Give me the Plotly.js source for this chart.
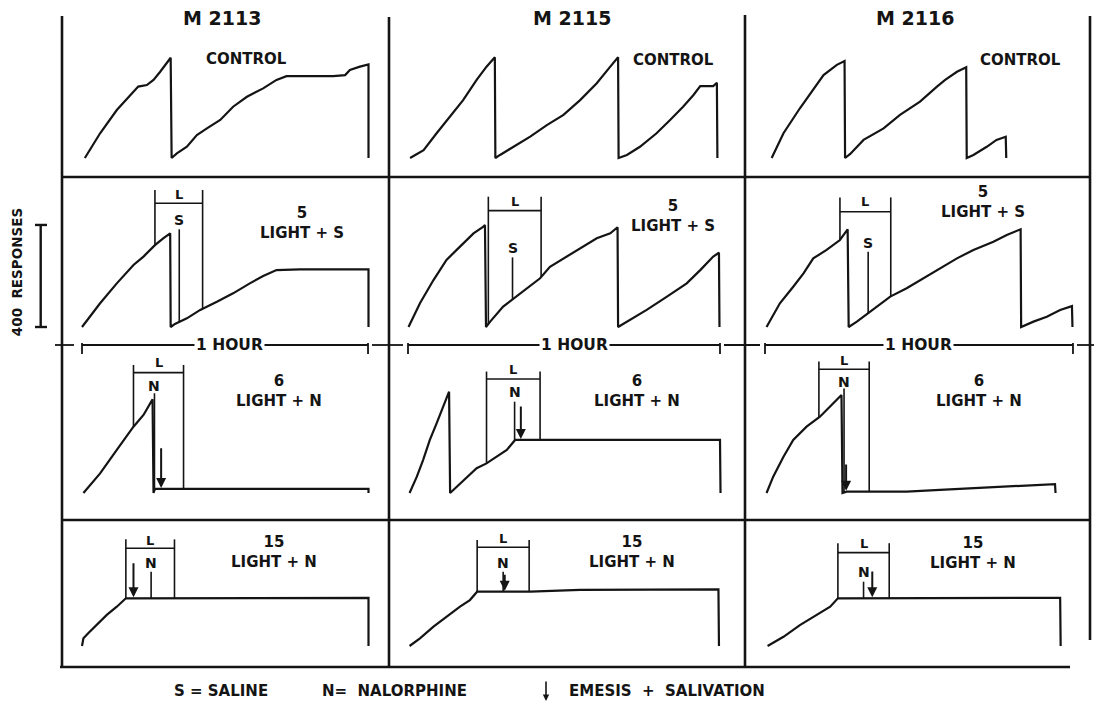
<!DOCTYPE html>
<html><head><meta charset="utf-8">
<script src="https://cdn.plot.ly/plotly-3.0.1.min.js"></script>
<style>html,body{margin:0;padding:0;background:#fff}</style>
</head><body><div id="chart" style="width:1094px;height:704px"></div>
<script>
// ---------------- DATA (minutes, cumulative responses) ----------------
const subjects = ['M 2113', 'M 2115', 'M 2116'];
const sessionLabels = ['CONTROL', '5<br>LIGHT + S', '6<br>LIGHT + N', '15<br>LIGHT + N'];

// Control sessions
const m2113_control_t = [0.6, 3.8, 7.3, 10.1, 11.8, 13.6, 15.0, 16.4, 17.8, 18.6, 18.8, 19.9, 22.0, 24.1, 26.2, 29.0, 31.7, 34.6, 38.0, 40.8, 42.9, 45.7, 52.7, 55.2, 56.2, 58.3, 60.1, 60.1];
const m2113_control_r = [0, 97, 188, 247, 280, 286, 306, 338, 371, 393, 0, 18, 44, 90, 116, 149, 201, 240, 273, 306, 321, 321, 321, 325, 345, 358, 367, 0];
const m2115_control_t = [0.4, 3.0, 5.5, 8.1, 10.6, 13.2, 15.1, 16.7, 16.8, 17.7, 20.3, 23.5, 26.7, 29.9, 33.1, 36.3, 38.9, 40.4, 40.5, 42.1, 44.6, 47.8, 50.4, 52.9, 54.9, 56.2, 58.7, 59.4, 59.5];
const m2115_control_r = [0, 31, 97, 162, 227, 306, 358, 395, 0, 12, 44, 84, 129, 169, 227, 293, 358, 395, 0, 12, 44, 97, 149, 201, 247, 282, 282, 295, 0];
const m2116_control_t = [1.3, 3.6, 6.8, 9.4, 11.4, 14.0, 15.5, 15.6, 16.6, 19.2, 23.1, 26.3, 30.2, 33.5, 35.1, 37.4, 38.6, 39.2, 39.3, 40.6, 43.2, 45.1, 46.9, 47.0];
const m2116_control_r = [0, 97, 195, 267, 325, 365, 380, 0, 16, 71, 116, 169, 221, 280, 306, 338, 350, 356, 0, 12, 44, 71, 83, 0];

// Session 5: light + saline
const m2113_s5_t = [0, 3.8, 7.3, 10.8, 12.9, 15.3, 17.1, 18.5, 18.6, 19.5, 22.0, 24.8, 28.3, 31.7, 35.2, 38.0, 40.8, 45.7, 52.7, 60.1, 60.1];
const m2113_s5_r = [0, 93, 171, 243, 276, 321, 348, 367, 0, 12, 34, 67, 99, 132, 171, 200, 223, 226, 226, 226, 0];
const m2115_s5_t = [0.1, 2.3, 4.9, 7.4, 10.0, 12.6, 14.5, 14.8, 15.0, 15.8, 18.3, 20.3, 22.8, 25.4, 27.3, 29.9, 33.1, 36.3, 38.9, 40.3, 40.4, 42.1, 45.9, 49.8, 53.6, 56.2, 58.7, 59.8, 59.9];
const m2115_s5_r = [0, 93, 184, 263, 315, 367, 393, 400, 0, 21, 80, 112, 152, 191, 236, 269, 308, 348, 367, 391, 0, 21, 67, 119, 171, 223, 276, 291, 0];
const m2116_s5_t = [0.3, 2.9, 5.5, 7.5, 9.4, 12.0, 14.6, 16.1, 16.3, 17.9, 20.5, 24.4, 27.6, 30.8, 34.1, 37.4, 40.6, 44.5, 47.1, 49.8, 49.9, 52.3, 54.9, 57.5, 59.8, 59.9];
const m2116_s5_r = [0, 93, 158, 210, 269, 302, 341, 383, 0, 21, 60, 119, 152, 191, 230, 269, 302, 334, 361, 383, 0, 21, 40, 67, 82, 0];

// Session 6: light + nalorphine
const m2113_s6_t = [0.3, 3.8, 7.3, 10.8, 12.9, 14.8, 15.0, 15.3, 60.1, 60.1];
const m2113_s6_r = [0, 77, 169, 260, 306, 367, 0, 16, 16, 0];
const m2115_s6_t = [0.3, 1.7, 2.9, 4.2, 5.5, 6.8, 7.9, 8.1, 9.4, 11.3, 13.2, 15.1, 17.1, 19.0, 20.6, 60.0, 60.1];
const m2115_s6_r = [0, 64, 129, 208, 273, 338, 397, 0, 25, 64, 97, 116, 142, 169, 208, 208, 0];
const m2116_s6_t = [0.3, 1.6, 3.6, 5.5, 8.1, 10.7, 13.3, 14.9, 15.1, 15.9, 20.1, 27.6, 34.1, 40.6, 47.1, 56.5, 56.6];
const m2116_s6_r = [0, 64, 142, 208, 260, 299, 352, 384, 0, 5, 5, 5, 12, 18, 25, 35, 0];

// Session 15: light + nalorphine
const m2113_s15_t = [0, 0.3, 1.3, 3.1, 5.2, 7.3, 9.2, 60.1, 60.1];
const m2113_s15_r = [0, 30, 50, 82, 122, 154, 187, 189, 0];
const m2115_s15_t = [0.3, 2.3, 4.9, 7.4, 10.0, 11.9, 13.3, 23.5, 33.1, 59.7, 59.8];
const m2115_s15_r = [0, 30, 76, 115, 154, 180, 213, 213, 220, 222, 0];
const m2116_s15_t = [0.5, 3.6, 6.8, 10.1, 12.7, 14.2, 57.5, 57.6];
const m2116_s15_r = [0, 36, 82, 122, 154, 187, 189, 0];

// Events for sessions 5, 6, 15 (row-major, 3 subjects each), minutes
const lightOn    = [15.3, 15.45, 14.6, 10.8, 15.1, 10.5, 9.2, 13.3, 14.2];
const lightOff   = [25.3, 25.6, 24.5, 21.3, 25.4, 20.3, 19.4, 23.3, 24.2];
const drugTime   = [20.4, 20.1, 20.1, 15.2, 20.5, 15.4, 14.5, 18.3, 19.2];
const drugCode   = ['S', 'S', 'S', 'N', 'N', 'N', 'N', 'N', 'N'];
const emesisTime = [null, null, null, 16.6, 21.7, 15.8, 10.8, 18.6, 20.9];

const hourMinutes = 60;
const scaleResponses = 400;
const legendItems = ['S = SALINE', 'N=  NALORPHINE', 'EMESIS  +  SALIVATION'];

// ---------------- LAYOUT (pixels / positions) ----------------
const W = 1094, H = 704;
const colEdgesPx = [[62, 389], [389, 745], [745, 1090]];
const colZeroPx = [82, 408, 765];
const colPxPerMin = [4.767, 5.2, 5.133];
const rowEdgesPx = [[16, 177], [177, 343], [343, 520], [520, 667]];
const rowBasePx = [158, 327, 493, 646];
const respPerPx = 3.92;

const labelPos = [[34.6, 388], [51, 384], [49.7, 384],
                  [46.2, 406], [51, 434], [42.5, 490],
                  [41.3, 400], [44, 400], [41.7, 400],
                  [40.3, 368], [43.1, 368], [40.5, 366]];
const bracketTopR = [537, 511, 508, 502, 476, 515, 418, 416, 403];
const bracketBarR = [485, 456, 452, 472, 447, 485, 383, 387, 366];
const lTextR      = [519, 493, 493, 510, 484, 521, 414, 423, 401];
const drugTopR    = [383, 273, 295, 391, 358, 410, 291, 291, 252];
const drugTextR   = [419, 308, 330, 419, 394, 437, 327, 325, 292];
const emesisTailR = [null, null, null, 181, 345, 118, 330, 285, 298];
const hourLabelT  = [31, 32, 30];
const headerPx = [222, 572, 915];
const legendPx = [221, 394, 667];

const records = [
  [m2113_control_t, m2113_control_r], [m2115_control_t, m2115_control_r], [m2116_control_t, m2116_control_r],
  [m2113_s5_t, m2113_s5_r], [m2115_s5_t, m2115_s5_r], [m2116_s5_t, m2116_s5_r],
  [m2113_s6_t, m2113_s6_r], [m2115_s6_t, m2115_s6_r], [m2116_s6_t, m2116_s6_r],
  [m2113_s15_t, m2113_s15_r], [m2115_s15_t, m2115_s15_r], [m2116_s15_t, m2116_s15_r]
];

const INK = '#141414';
const FONT = 'DejaVu Sans';

function recAt(ts, rs, T) {
  for (let i = 0; i < ts.length - 1; i++) {
    if (ts[i] <= T && T <= ts[i + 1] && ts[i + 1] > ts[i]) {
      return rs[i] + (rs[i + 1] - rs[i]) * (T - ts[i]) / (ts[i + 1] - ts[i]);
    }
  }
  return 0;
}
const ax = n => (n === 1 ? '' : String(n));

const layout = {
  width: W, height: H, margin: {l: 0, r: 0, t: 0, b: 0},
  paper_bgcolor: '#fff', plot_bgcolor: 'rgba(0,0,0,0)', showlegend: false,
  annotations: [], shapes: []
};
const data = [];

for (let r = 0; r < 4; r++) {
  for (let c = 0; c < 3; c++) {
    const n = r * 3 + c + 1;
    const xr = [(colEdgesPx[c][0] - colZeroPx[c]) / colPxPerMin[c], (colEdgesPx[c][1] - colZeroPx[c]) / colPxPerMin[c]];
    const yr = [(rowBasePx[r] - rowEdgesPx[r][1]) * respPerPx, (rowBasePx[r] - rowEdgesPx[r][0]) * respPerPx];
    layout['xaxis' + ax(n)] = {domain: [colEdgesPx[c][0] / W, colEdgesPx[c][1] / W], range: xr, visible: false, fixedrange: true, anchor: 'y' + ax(n)};
    layout['yaxis' + ax(n)] = {domain: [1 - rowEdgesPx[r][1] / H, 1 - rowEdgesPx[r][0] / H], range: yr, visible: false, fixedrange: true, anchor: 'x' + ax(n)};
    const xs = 'x' + ax(n), ys = 'y' + ax(n);
    const [ts, rs] = records[n - 1];
    data.push({x: ts, y: rs, xaxis: xs, yaxis: ys, mode: 'lines', line: {color: INK, width: 2.2}, hoverinfo: 'skip'});

    layout.annotations.push({xref: xs, yref: ys, x: labelPos[n - 1][0], y: labelPos[n - 1][1], xanchor: 'center', yanchor: 'middle',
      text: '<b>' + sessionLabels[r] + '</b>', showarrow: false, font: {family: FONT, size: 15, color: INK}});

    if (r > 0) {
      const k = (r - 1) * 3 + c;
      const on = lightOn[k], off = lightOff[k];
      data.push({x: [on, on, null, on, off, null, off, off],
        y: [bracketTopR[k], recAt(ts, rs, on), null, bracketBarR[k], bracketBarR[k], null, bracketTopR[k], recAt(ts, rs, off)],
        xaxis: xs, yaxis: ys, mode: 'lines', line: {color: INK, width: 1.6}, hoverinfo: 'skip', connectgaps: false});
      layout.annotations.push({xref: xs, yref: ys, x: (on + off) / 2, y: lTextR[k], text: '<b>L</b>', showarrow: false,
        xanchor: 'center', yanchor: 'middle', font: {family: FONT, size: 13, color: INK}});
      const d = drugTime[k];
      data.push({x: [d, d], y: [drugTopR[k], recAt(ts, rs, d)], xaxis: xs, yaxis: ys, mode: 'lines',
        line: {color: INK, width: 1.6}, hoverinfo: 'skip'});
      layout.annotations.push({xref: xs, yref: ys, x: d, y: drugTextR[k], text: '<b>' + drugCode[k] + '</b>', showarrow: false,
        xanchor: 'center', yanchor: 'middle', font: {family: FONT, size: 14, color: INK}});
      const e = emesisTime[k];
      if (e !== null) {
        layout.annotations.push({xref: xs, yref: ys, x: e, y: recAt(ts, rs, e) + 4, axref: xs, ayref: ys, ax: e, ay: emesisTailR[k],
          text: '', showarrow: true, arrowhead: 2, arrowsize: 1, arrowwidth: 2, arrowcolor: INK, standoff: 0});
      }
    }
  }
}

// subject headers
subjects.forEach((s, c) => layout.annotations.push({xref: 'paper', yref: 'paper', x: headerPx[c] / W, y: 1 - 18 / H,
  xanchor: 'center', yanchor: 'middle', text: '<b>' + s + '</b>', showarrow: false, font: {family: FONT, size: 19, color: INK}}));

// frame
const L = (x0, y0, x1, y1, w) => layout.shapes.push({type: 'line', xref: 'paper', yref: 'paper',
  x0: x0 / W, x1: x1 / W, y0: 1 - y0 / H, y1: 1 - y1 / H, line: {color: INK, width: w}});
L(62, 16, 62, 667, 2.6); L(389, 17, 389, 667, 2.6); L(745, 15, 745, 667, 2.6);
L(1090, 16, 1090, 640, 2.6);
L(62, 177, 1090, 177, 2.6); L(62, 520, 1090, 520, 2.6); L(60, 667, 1070, 667, 2.6);
[[55, 74], [372, 403], [724, 760], [1077, 1094]].forEach(([a, b]) => L(a, 345, b, 345, 1.8));

// 1 HOUR scale bars (row 3 axes)
const hourLevel = (rowBasePx[2] - 345) * respPerPx;
const tickHalf = 9 * respPerPx;
for (let c = 0; c < 3; c++) {
  const n = 6 + c + 1, xs = 'x' + ax(n), ys = 'y' + ax(n);
  const seg = (x0, y0, x1, y1) => layout.shapes.push({type: 'line', xref: xs, yref: ys, x0, y0, x1, y1, line: {color: INK, width: 1.8}});
  seg(0, hourLevel, hourMinutes, hourLevel);
  seg(0, hourLevel - tickHalf, 0, hourLevel + tickHalf);
  seg(hourMinutes, hourLevel - tickHalf, hourMinutes, hourLevel + tickHalf);
  layout.annotations.push({xref: xs, yref: ys, x: hourLabelT[c], y: hourLevel, text: '<b>1 HOUR</b>', showarrow: false,
    xanchor: 'center', yanchor: 'middle', bgcolor: '#fff', borderpad: 1, font: {family: FONT, size: 15.5, color: INK}});
}

// 400 responses scale bar (row 2, first column axes)
const sbx = 40.7 / W;
layout.shapes.push({type: 'line', xref: 'paper', yref: 'y4', x0: sbx, x1: sbx, y0: 0, y1: scaleResponses, line: {color: INK, width: 2.4}});
layout.shapes.push({type: 'line', xref: 'paper', yref: 'y4', x0: 35 / W, x1: 47 / W, y0: 0, y1: 0, line: {color: INK, width: 2.4}});
layout.shapes.push({type: 'line', xref: 'paper', yref: 'y4', x0: 35 / W, x1: 47 / W, y0: scaleResponses, y1: scaleResponses, line: {color: INK, width: 2.4}});
layout.annotations.push({xref: 'paper', yref: 'y4', x: 17 / W, y: scaleResponses / 2 + 15, xanchor: 'center', yanchor: 'middle',
  text: '<b>' + scaleResponses + '  RESPONSES</b>', textangle: -90, showarrow: false, font: {family: FONT, size: 13.5, color: INK}});

// footer legend
legendItems.forEach((txt, i) => layout.annotations.push({xref: 'paper', yref: 'paper', x: legendPx[i] / W, y: 1 - 691 / H,
  xanchor: 'center', yanchor: 'middle', text: '<b>' + txt + '</b>', showarrow: false, font: {family: FONT, size: 15, color: INK}}));
layout.annotations.push({xref: 'paper', yref: 'paper', x: 546 / W, y: 1 - 701 / H, ax: 546 / W, ay: 1 - 680 / H, axref: 'paper', ayref: 'paper',
  text: '', showarrow: true, arrowhead: 2, arrowsize: 0.8, arrowwidth: 1.6, arrowcolor: INK, standoff: 0});

Plotly.newPlot('chart', data, layout, {staticPlot: true, displayModeBar: false});
</script>
</body></html>
